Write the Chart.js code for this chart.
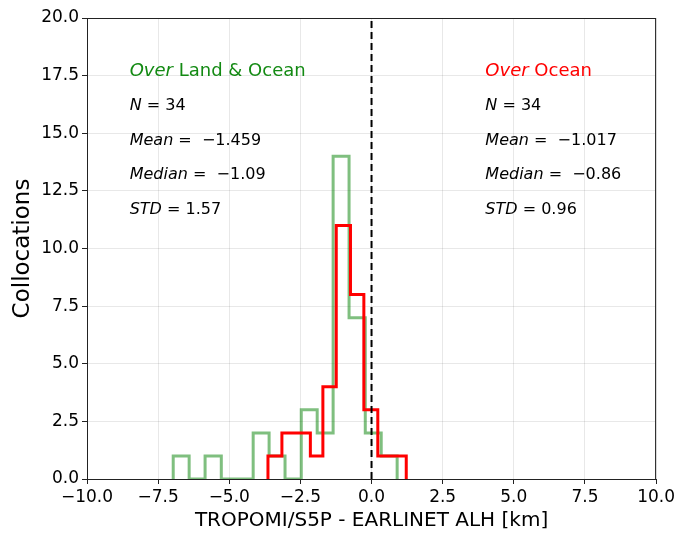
<!DOCTYPE html>
<html lang="en">
<head>
<meta charset="UTF-8">
<title>ALH difference histogram</title>
<script src="https://cdn.jsdelivr.net/npm/chart.js"></script>
<style>
  html, body { margin: 0; padding: 0; background: #fff; }
</style>
</head>
<body>
<canvas id="histChart" width="678" height="538"></canvas>
<script>
// histogram bins, land & ocean collocations
const landEdges = [-6.97, -6.41, -5.85, -5.28, -4.72, -4.16, -3.60, -3.04, -2.47, -1.91, -1.35, -0.79, -0.22, 0.34, 0.90];
const landCounts = [1, 0, 1, 0, 0, 2, 1, 0, 3, 2, 14, 7, 2, 1];

// histogram bins, ocean only
const oceanEdges = [-3.64, -3.15, -2.65, -2.15, -1.71, -1.24, -0.74, -0.27, 0.22, 0.72, 1.22];
const oceanCounts = [1, 2, 2, 1, 4, 11, 8, 3, 1, 1];

// zero-difference reference line
const zeroLineX = [0, 0];
const zeroLineY = [0, 20];

// statistics text boxes
const landTitle = ['Over', ' Land & Ocean'];
const oceanTitle = ['Over', ' Ocean'];
const landStats = [['N', ' = 34'], ['Mean', ' =  \u22121.459'], ['Median', ' =  \u22121.09'], ['STD', ' = 1.57']];
const oceanStats = [['N', ' = 34'], ['Mean', ' =  \u22121.017'], ['Median', ' =  \u22120.86'], ['STD', ' = 0.96']];
const statsRowsY = [17.5, 16, 14.5, 13, 11.5];
const landTextX = -8.5;
const oceanTextX = 4.0;

const FONT = "'DejaVu Sans', sans-serif";

// outline of a step histogram: up at the first edge, across each bin, down at the last edge
function stepPoints(edges, counts) {
    const pts = [{ x: edges[0], y: 0 }];
    counts.forEach((c, i) => pts.push({ x: edges[i], y: c }));
    pts.push({ x: edges[edges.length - 1], y: 0 });
    return pts;
}

function fmt(v) {
    return v.toFixed(1).replace('-', '\u2212');
}

const frameAndText = {
    id: 'frameAndText',
    afterDraw(chart) {
        const { ctx, chartArea: a, scales: { x, y } } = chart;
        ctx.save();
        ctx.strokeStyle = '#222';
        ctx.lineWidth = 1;
        ctx.strokeRect(a.left + 0.5, a.top + 0.5, a.right - a.left - 1, a.bottom - a.top);

        function mixed(parts, px, py, color, size) {
            ctx.fillStyle = color;
            ctx.textBaseline = 'alphabetic';
            ctx.textAlign = 'left';
            let cx = px;
            ctx.font = `italic ${size}px ${FONT}`;
            ctx.fillText(parts[0], cx, py);
            cx += ctx.measureText(parts[0]).width;
            ctx.font = `${size}px ${FONT}`;
            ctx.fillText(parts[1], cx, py);
        }

        function block(title, stats, dx, color) {
            const px = x.getPixelForValue(dx);
            mixed(title, px, y.getPixelForValue(statsRowsY[0]), color, 18);
            stats.forEach((s, i) => mixed(s, px, y.getPixelForValue(statsRowsY[i + 1]), '#000', 16));
        }

        block(landTitle, landStats, landTextX, '#138a13');
        block(oceanTitle, oceanStats, oceanTextX, '#ff0000');
        ctx.restore();
    }
};

new Chart(document.getElementById('histChart').getContext('2d'), {
    type: 'line',
    data: {
        datasets: [
            {
                data: zeroLineX.map((v, i) => ({ x: v, y: zeroLineY[i] })),
                borderColor: '#000',
                borderWidth: 2,
                borderDash: [7, 4],
                pointRadius: 0,
                order: 0
            },
            {
                data: stepPoints(oceanEdges, oceanCounts),
                borderColor: '#ff0000',
                borderWidth: 3,
                stepped: true,
                pointRadius: 0,
                order: 1
            },
            {
                data: stepPoints(landEdges, landCounts),
                borderColor: 'rgba(0, 128, 0, 0.5)',
                borderWidth: 3,
                stepped: true,
                pointRadius: 0,
                order: 2
            }
        ]
    },
    options: {
        responsive: false,
        animation: false,
        layout: { padding: { left: 0, top: 18, right: 21, bottom: 0 } },
        plugins: {
            legend: { display: false },
            tooltip: { enabled: false }
        },
        scales: {
            x: {
                type: 'linear',
                min: -10,
                max: 10,
                afterFit: (s) => { s.height = 59; },
                ticks: {
                    stepSize: 2.5,
                    autoSkip: false,
                    maxRotation: 0,
                    padding: 3,
                    color: '#000',
                    font: { family: FONT, size: 17 },
                    callback: (v) => fmt(v)
                },
                grid: { color: 'rgba(0,0,0,0.09)', tickColor: '#222', tickLength: 5 },
                border: { color: '#222' },
                title: {
                    display: true,
                    text: 'TROPOMI/S5P - EARLINET ALH [km]',
                    color: '#000',
                    font: { family: FONT, size: 20 },
                    padding: { top: 0, bottom: 5 }
                }
            },
            y: {
                min: 0,
                max: 20,
                afterFit: (s) => { s.width = 87; },
                ticks: {
                    stepSize: 2.5,
                    padding: 3,
                    color: '#000',
                    font: { family: FONT, size: 17 },
                    callback: (v) => fmt(v)
                },
                grid: { color: 'rgba(0,0,0,0.09)', tickColor: '#222', tickLength: 5 },
                border: { color: '#222' },
                title: {
                    display: true,
                    text: 'Collocations',
                    color: '#000',
                    font: { family: FONT, size: 23 },
                    padding: { top: 9, bottom: 0 }
                }
            }
        }
    },
    plugins: [frameAndText]
});
</script>
</body>
</html>
